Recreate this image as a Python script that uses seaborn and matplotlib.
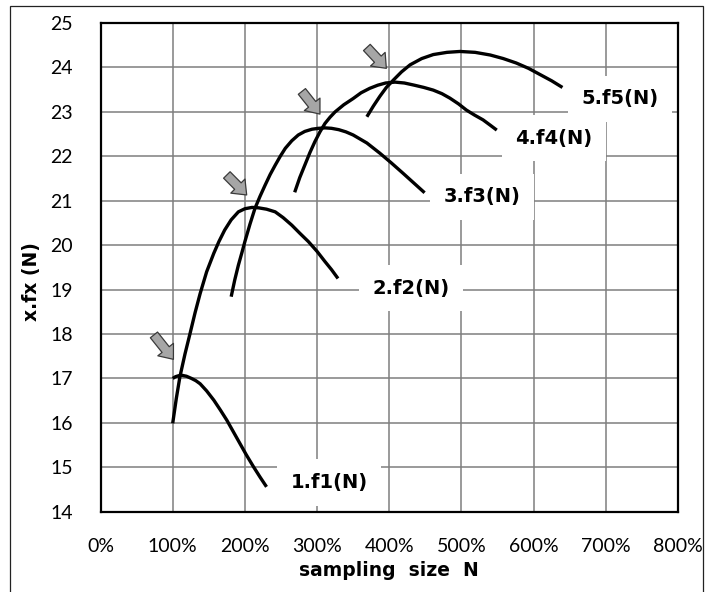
import matplotlib
matplotlib.use("Agg")
import matplotlib.pyplot as plt
import matplotlib.patches as mpatches
from matplotlib.ticker import PercentFormatter, MultipleLocator
import pandas as pd
import seaborn as sns

# values: sampling size N in % and x.fx (N)
f1_x = [100, 104, 108, 113, 119, 126, 132, 138, 147, 157, 166, 175, 184, 193, 202, 212, 221, 230]
f1_y = [17.00, 17.04, 17.06, 17.07, 17.05, 17.00, 16.95, 16.88, 16.72, 16.51, 16.29, 16.06,
        15.80, 15.54, 15.28, 15.01, 14.78, 14.56]

f2_x = [100, 105, 110, 117, 124, 131, 138, 147, 157, 164, 172, 181, 191, 200, 210, 219, 230,
        242, 253, 265, 276, 288, 300, 311, 320, 329]
f2_y = [15.99, 16.55, 17.04, 17.55, 18.01, 18.48, 18.91, 19.40, 19.82, 20.08, 20.34, 20.57,
        20.75, 20.82, 20.85, 20.84, 20.81, 20.75, 20.62, 20.45, 20.27, 20.08, 19.86, 19.63,
        19.45, 19.25]

f3_x = [181, 186, 191, 196, 200, 207, 214, 221, 228, 235, 242, 249, 256, 265, 274, 283, 293,
        302, 311, 320, 330, 340, 350, 369, 387, 403, 419, 434, 449]
f3_y = [18.84, 19.22, 19.55, 19.84, 20.08, 20.47, 20.83, 21.10, 21.35, 21.59, 21.80, 22.00,
        22.18, 22.35, 22.48, 22.56, 22.61, 22.63, 22.64, 22.63, 22.60, 22.55, 22.48, 22.30,
        22.07, 21.85, 21.62, 21.40, 21.18]

f4_x = [269, 276, 283, 290, 297, 304, 311, 318, 325, 337, 350, 361, 373, 384, 395, 408, 421,
        435, 448, 461, 473, 484, 496, 507, 518, 530, 540, 549]
f4_y = [21.19, 21.52, 21.80, 22.08, 22.33, 22.55, 22.74, 22.88, 23.00, 23.16, 23.30, 23.43,
        23.53, 23.60, 23.65, 23.67, 23.65, 23.60, 23.55, 23.49, 23.41, 23.31, 23.18, 23.04,
        22.93, 22.82, 22.70, 22.59]

f5_x = [369, 378, 387, 396, 406, 417, 429, 445, 461, 480, 498, 519, 540, 558, 576, 593, 609,
        625, 640]
f5_y = [22.89, 23.13, 23.35, 23.55, 23.72, 23.90, 24.06, 24.20, 24.29, 24.34, 24.36, 24.34,
        24.28, 24.20, 24.10, 23.98, 23.84, 23.70, 23.55]

curve_names = ["1.f1(N)", "2.f2(N)", "3.f3(N)", "4.f4(N)", "5.f5(N)"]

# where the labels sit and where the little arrows point (tail, tip)
label_pos = [(317, 14.66), (430, 19.03), (529, 21.09), (628, 22.41), (720, 23.29)]
arrows = [((74, 17.98), (101, 17.43)),
          ((175, 21.58), (202.5, 21.13)),
          ((279, 23.46), (304, 22.95)),
          ((369, 24.45), (396, 23.98))]

BOLD_FONT = ["DejaVu Sans"]


def build_frame():
    parts = []
    for name, xs, ys in zip(curve_names,
                            [f1_x, f2_x, f3_x, f4_x, f5_x],
                            [f1_y, f2_y, f3_y, f4_y, f5_y]):
        parts.append(pd.DataFrame({"N": xs, "fx": ys, "curve": name}))
    return pd.concat(parts, ignore_index=True)


def main():
    sns.set_style("white")
    plt.rcParams["font.family"] = ["Lato", "DejaVu Sans"]
    plt.rcParams["text.color"] = "black"
    plt.rcParams["axes.labelcolor"] = "black"

    df = build_frame()

    fig = plt.figure(figsize=(7.05, 5.92), dpi=100)
    ax = fig.add_axes([0.1426, 0.1356, 0.819, 0.8255])

    sns.lineplot(data=df, x="N", y="fx", hue="curve", units="curve",
                 estimator=None, sort=False, palette=["black"] * 5,
                 linewidth=2.4, legend=False, ax=ax, zorder=3)
    for line in ax.lines:
        line.set_solid_capstyle("butt")
        line.set_solid_joinstyle("round")

    ax.set_xlim(0, 800)
    ax.set_ylim(14, 25)
    ax.xaxis.set_major_locator(MultipleLocator(100))
    ax.yaxis.set_major_locator(MultipleLocator(1))
    ax.xaxis.set_major_formatter(PercentFormatter(xmax=100, decimals=0))
    ax.grid(True, color="#7f7f7f", linewidth=1.1)
    ax.set_axisbelow(True)
    ax.tick_params(axis="both", length=0, labelsize=14, colors="black")
    ax.tick_params(axis="x", pad=19)
    ax.tick_params(axis="y", pad=20)
    for sp in ax.spines.values():
        sp.set_visible(True)
        sp.set_color("black")
        sp.set_linewidth(1.6)

    ax.set_xlabel("sampling  size  N", fontsize=13.5, fontweight="bold",
                  family=BOLD_FONT, color="black", labelpad=4)
    ax.set_ylabel("x.fx (N)", fontsize=13.5, fontweight="bold",
                  family=BOLD_FONT, color="black")
    ax.yaxis.set_label_coords(-0.103, 0.47)

    for name, (lx, ly) in zip(curve_names, label_pos):
        ax.text(lx, ly, name, ha="center", va="center", fontsize=14,
                fontweight="bold", family=BOLD_FONT, color="black",
                zorder=5, clip_on=False,
                bbox=dict(boxstyle="square,pad=0.7", fc="white", ec="none"))

    for tail, tip in arrows:
        ax.annotate("", xy=tip, xytext=tail, zorder=6,
                    arrowprops=dict(arrowstyle="simple,head_length=0.75,head_width=1.2,tail_width=0.55",
                                    mutation_scale=12, fc="#a6a6a6", ec="#3a3a3a",
                                    lw=0.9, shrinkA=0, shrinkB=0))

    # thin outer frame of the chart area
    fig.patches.append(mpatches.Rectangle((10 / 705, -0.05), 693 / 705, 1.05 - 6 / 592,
                                          transform=fig.transFigure, fill=False,
                                          ec="#222222", lw=0.9))

    fig.savefig("out.png", dpi=100)
    plt.close(fig)


if __name__ == "__main__":
    main()
